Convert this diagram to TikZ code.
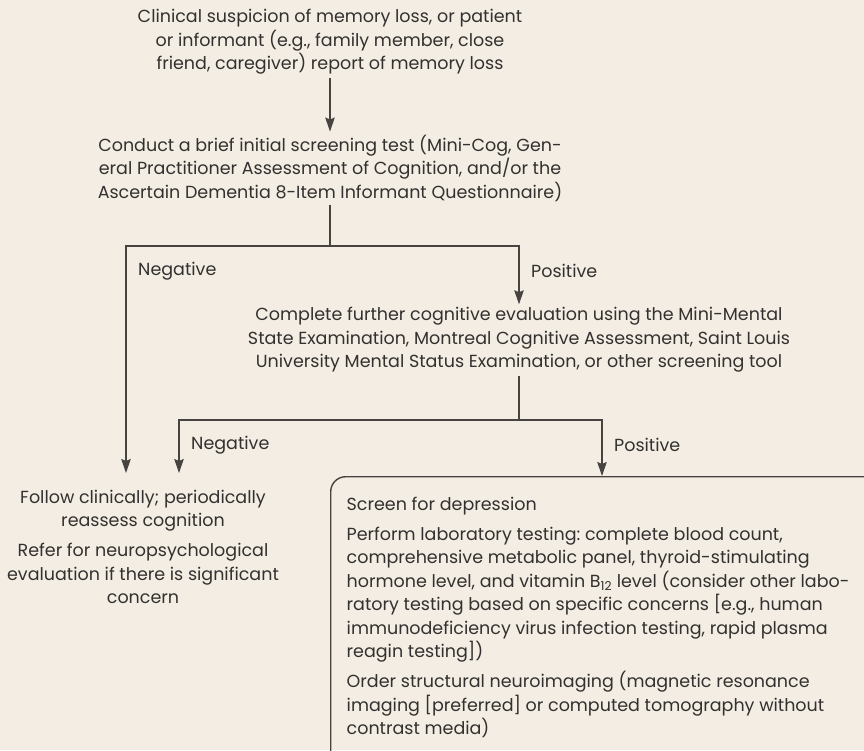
\documentclass[tikz,border=0pt]{standalone}
\usepackage{fontspec}
\setmainfont{Poppins}
\usetikzlibrary{arrows.meta}
\definecolor{paper}{RGB}{243,237,227}
\definecolor{ink}{RGB}{51,49,47}
\definecolor{wire}{RGB}{70,67,64}
\frenchspacing

\begin{document}
\begin{tikzpicture}[x=1pt,y=-1pt]
\tikzset{every node/.style={font=\fontsize{17.5}{23.5}\selectfont, text=ink},
    txt/.style={align=center, inner sep=3pt},
    lbl/.style={anchor=west, inner sep=0pt},
    link/.style={draw=wire, line width=1.4pt},
    arr/.style={link, -{Stealth[width=9.5pt,length=14pt,inset=2pt]}}}
        \fill[paper] (0,0) rectangle (864,750);
        \useasboundingbox (0,0) rectangle (864,750);
        \clip (0,0) rectangle (864,750);

        \node[txt] (susp) at (330,42) {Clinical suspicion of memory loss, or patient\\
            or informant (e.g., family member, close\\
            friend, caregiver) report of memory loss};
        \node[txt] (brief) at (330,168) {Conduct a brief initial screening test (Mini-Cog, Gen-\\
            eral Practitioner Assessment of Cognition, and/or the\\
            Ascertain Dementia 8-Item Informant Questionnaire)};
        \node[txt] (further) at (519,340) {Complete further cognitive evaluation using the Mini-Mental\\
            State Examination, Montreal Cognitive Assessment, Saint Louis\\
            University Mental Status Examination, or other screening tool};
        \node[txt] (follow) at (143,547) {Follow clinically; periodically\\
            reassess cognition\\[6.5pt]
            Refer for neuropsychological\\
            evaluation if there is significant\\
            concern};
        \node[link, rounded corners=15pt, anchor=north west, inner xsep=16pt, inner ysep=0pt] (workup) at (330,476)
            {\parbox[t][320pt][t]{520pt}{\vspace*{20pt}\raggedright
            Screen for depression\\[6.5pt]
            Perform laboratory testing: complete blood count,\\
            comprehensive metabolic panel, thyroid-stimulating\\
            hormone level, and vitamin B\textsubscript{12} level (consider other labo-\\
            ratory testing based on specific concerns [e.g., human\\
            immunodeficiency virus infection testing, rapid plasma\\
            reagin testing])\\[6.5pt]
            Order structural neuroimaging (magnetic resonance\\
            imaging [preferred] or computed tomography without\\
            contrast media)}};

        \coordinate (split1) at (330,246);
        \coordinate (split2) at (519,420);
        \coordinate (negA) at (126,473);
        \coordinate (negB) at (179,473);
        \coordinate (posB) at (602,476);

        \draw[arr] (susp) -- (brief);
        \draw[link] (brief) -- (split1);
        \draw[arr] (split1) -| (negA);
        \draw[arr] (split1) -| (further);
        \draw[link] (further) -- (split2);
        \draw[arr] (split2) -| (negB);
        \draw[arr] (split2) -| (posB);

        \node[lbl] (neg1) at (138,271) {Negative};
        \node[lbl] (pos1) at (531,271) {Positive};
        \node[lbl] (neg2) at (191,445) {Negative};
        \node[lbl] (pos2) at (614,445) {Positive};
\end{tikzpicture}
\end{document}
